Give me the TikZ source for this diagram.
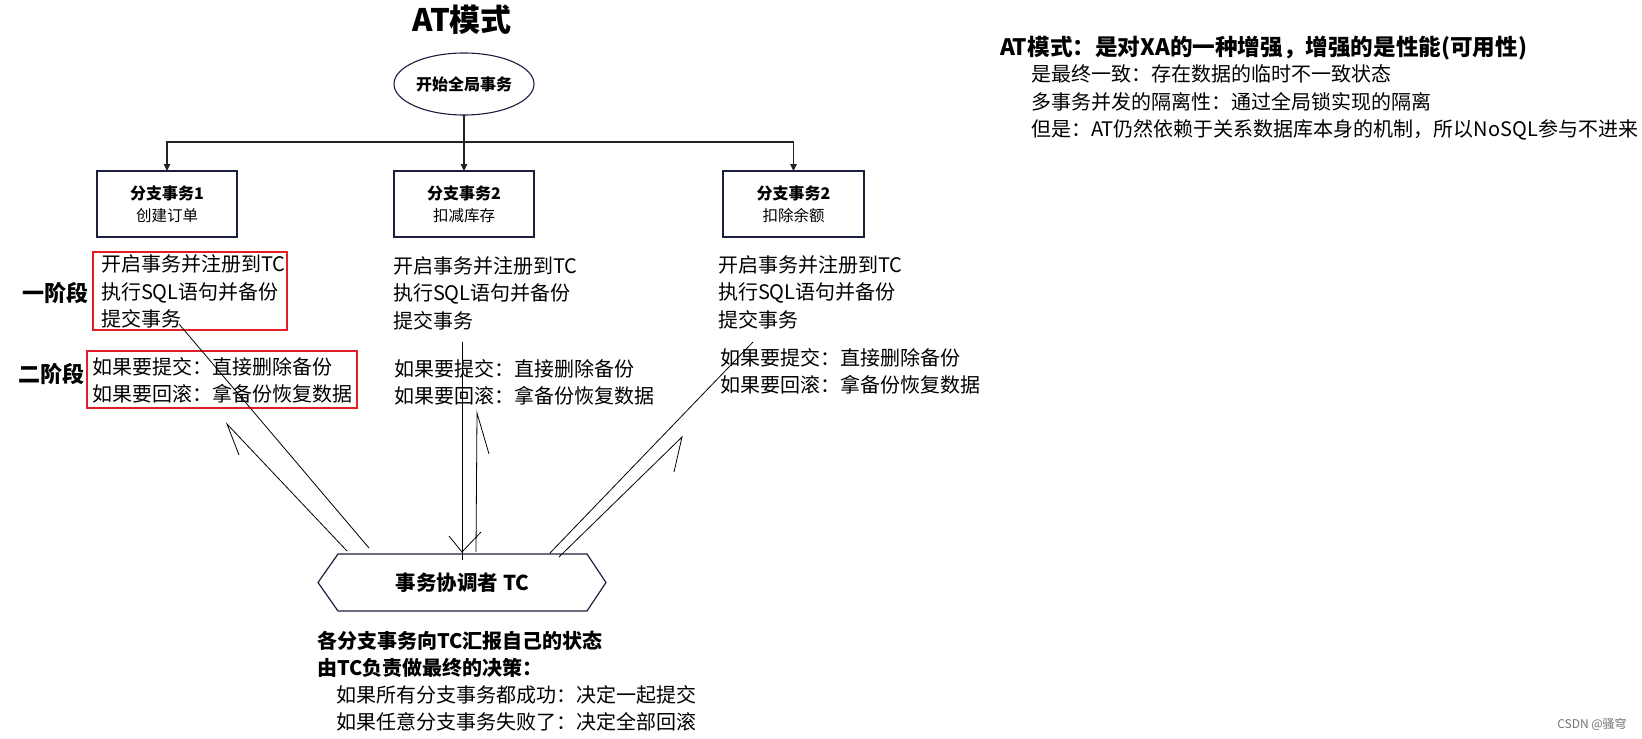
\documentclass[tikz,border=0pt]{standalone}
\usepackage{fontspec}
\setmainfont{Noto Sans CJK SC}
\usetikzlibrary{arrows.meta,shapes.geometric}
\definecolor{navy}{RGB}{28,30,62}
\definecolor{redbox}{RGB}{228,30,40}
\definecolor{conn}{RGB}{34,34,34}
\begin{document}
\begin{tikzpicture}[x=1pt,y=-1pt,
  every node/.style={inner sep=0pt,outer sep=0pt,text=black},
  titletext/.style={font=\fontsize{31}{36}\selectfont\bfseries},
  startell/.style={ellipse, draw=navy, line width=1.1pt, minimum width=140pt, minimum height=62pt, font=\fontsize{16}{20}\selectfont\bfseries},
  branch/.style={rectangle, draw=navy, line width=1.2pt, minimum height=66pt, align=center, font=\fontsize{16}{22}\selectfont},
  body/.style={anchor=west, align=left, font=\fontsize{20}{27.5}\selectfont},
  redframe/.style={rectangle, draw=redbox, line width=1.1pt},
  stage/.style={font=\fontsize{22}{26}\selectfont\bfseries},
  tree/.style={draw=conn, line width=1.2pt, -{Triangle[length=7pt,width=6.5pt]}},
  thinline/.style={draw=black, line width=0.8pt},
  hexline/.style={draw=navy, line width=1.2pt},
  tclabel/.style={font=\fontsize{20.5}{24}\selectfont\bfseries},
  notebold/.style={anchor=west, align=left, font=\fontsize{20}{27}\selectfont\bfseries},
  note/.style={anchor=west, align=left, font=\fontsize{20}{27}\selectfont},
]
\useasboundingbox (0,0) rectangle (1642,739);
\fill[white] (0,0) rectangle (1642,739);

% title and start
\node[titletext] (title) at (462,20) {AT模式};
\node[startell] (start) at (464,84) {开始全局事务};

% branch boxes
\node[branch, minimum width=140pt] (b1) at (167,204) {{\bfseries 分支事务1}\\{\fontsize{15.5}{22}\selectfont 创建订单}};
\node[branch, minimum width=140pt] (b2) at (464,204) {{\bfseries 分支事务2}\\{\fontsize{15.5}{22}\selectfont 扣减库存}};
\node[branch, minimum width=141pt] (b3) at (793.5,204) {{\bfseries 分支事务2}\\{\fontsize{15.5}{22}\selectfont 扣除余额}};

% tree connectors
\coordinate (hub) at (464,142);
\draw[draw=conn, line width=1.2pt] (start.south) -- (hub);
\draw[tree] (hub) -- (b2.north);
\draw[tree] (hub) -| (b1.north);
\draw[tree] (hub) -| (b3.north);

% stage labels and red frames
\node[stage] (s1) at (56,293) {一阶段};
\node[stage] (s2) at (52,374) {二阶段};
\node[redframe, minimum width=194pt, minimum height=78pt] (r1) at (190,291) {};
\node[redframe, minimum width=270pt, minimum height=57pt] (r2) at (222,379.5) {};

% column texts
\node[body] (c1a) at (101,291.7) {开启事务并注册到TC\\执行SQL语句并备份\\提交事务};
\node[body] (c1b) at (92,380.5) {如果要提交：直接删除备份\\如果要回滚：拿备份恢复数据};
\node[body] (c2a) at (393,293) {开启事务并注册到TC\\执行SQL语句并备份\\提交事务};
\node[body] (c2b) at (394,382.5) {如果要提交：直接删除备份\\如果要回滚：拿备份恢复数据};
\node[body] (c3a) at (718,292) {开启事务并注册到TC\\执行SQL语句并备份\\提交事务};
\node[body] (c3b) at (720,371.5) {如果要提交：直接删除备份\\如果要回滚：拿备份恢复数据};

% coordinator
\node[tclabel, minimum width=249pt, minimum height=57pt] (tc) at (462.5,582.5) {事务协调者 TC};
\draw[hexline] (tc.north west) -- (tc.north east) -- ([xshift=19pt]tc.east) -- (tc.south east) -- (tc.south west) -- ([xshift=-20pt]tc.west) -- cycle;

% hand-drawn lines between columns and TC
\coordinate (a1) at (179,324); \coordinate (a2) at (369,548);
\coordinate (bb1) at (347,551); \coordinate (bb2) at (227,424); \coordinate (bb3) at (239,455);
\coordinate (cc1) at (462,342); \coordinate (cc2) at (462,560); \coordinate (cct) at (462,552);
\coordinate (cc3) at (449,536); \coordinate (cc4) at (481,532);
\coordinate (d1) at (476,552); \coordinate (d2) at (477,413); \coordinate (d3) at (489,454);
\coordinate (e1) at (753,342); \coordinate (e2) at (550,553);
\coordinate (f1) at (559,557); \coordinate (f2) at (682,437); \coordinate (f3) at (674,472);
\draw[thinline] (a1) -- (a2);
\draw[thinline] (bb1) -- (bb2) -- (bb3);
\draw[thinline] (cc1) -- (cc2);
\draw[thinline] (cc3) -- (cct) -- (cc4);
\draw[thinline] (d1) -- (d2) -- (d3);
\draw[thinline] (e1) -- (e2);
\draw[thinline] (f1) -- (f2) -- (f3);

% notes below TC
\node[notebold] (n1) at (317,654.5) {各分支事务向TC汇报自己的状态\\由TC负责做最终的决策：};
\node[note] (n2) at (336,708.5) {如果所有分支事务都成功：决定一起提交\\如果任意分支事务失败了：决定全部回滚};

% right notes
\node[notebold, font=\fontsize{22.6}{27}\selectfont\bfseries] (rt) at (1000,48) {AT模式：是对XA的一种增强，增强的是性能(可用性)};
\node[note, font=\fontsize{20}{27.5}\selectfont] (rn) at (1031,102.5) {是最终一致：存在数据的临时不一致状态\\多事务并发的隔离性：通过全局锁实现的隔离\\但是：AT仍然依赖于关系数据库本身的机制，所以NoSQL参与不进来};

% watermark
\node[font=\fontsize{12}{14}\selectfont, text=black!55] (wm) at (1592,724) {CSDN @骚穹};
\end{tikzpicture}
\end{document}
